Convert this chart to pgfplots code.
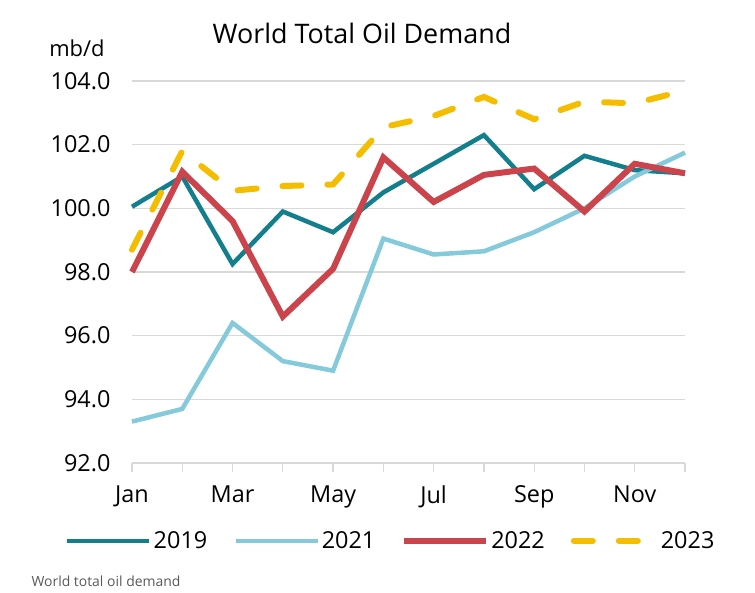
\documentclass[border=0pt]{standalone}
\usepackage{fontspec}
\setmainfont{Open Sans}
\usepackage{pgfplots}
\pgfplotsset{compat=1.18}
\definecolor{c2019}{RGB}{19,127,140}
\definecolor{c2021}{RGB}{132,202,219}
\definecolor{c2022}{RGB}{204,68,75}
\definecolor{c2023}{RGB}{245,189,0}
\definecolor{gridgrey}{RGB}{217,217,217}
\begin{document}
\begin{tikzpicture}
\path[use as bounding box] (-132bp,-130bp) rectangle (623bp,463bp);
\begin{axis}[
  at={(0,0)}, anchor=south west,
  scale only axis, width=553bp, height=382bp,
  xmin=1, xmax=12, ymin=92, ymax=104,
  xtick={1,...,12},
  xticklabels={Jan,,Mar,,May,,Jul,,Sep,,Nov,},
  ytick={92,94,...,104},
  yticklabel={\pgfmathprintnumber[fixed,fixed zerofill,precision=1]{\tick}},
  /pgf/number format/assume math mode=true,
  ymajorgrids, grid style={gridgrey, line width=1.2bp},
  axis x line*=bottom, axis y line*=left,
  x axis line style={gridgrey, line width=1.2bp, -},
  y axis line style={draw=none},
  xtick style={gridgrey, line width=1.2bp},
  xtick align=outside, major tick length=9bp,
  ytick style={draw=none},
  ticklabel style={font=\fontsize{23.5}{28}\selectfont},
  yticklabel style={xshift=-18bp},
  xticklabel style={yshift=-10bp},
  clip=false,
  legend columns=4,
  legend style={at={(0.468,-0.204)}, anchor=center, draw=none,
    font=\fontsize{23.5}{28}\selectfont,
    /tikz/every even column/.append style={column sep=24bp}},
  legend image code/.code={\draw[#1] (0bp,0bp) -- (82bp,0bp);},
]
\addplot[c2019, line width=4.5bp] coordinates {
 (1,100.05) (2,101.0) (3,98.25) (4,99.9) (5,99.25) (6,100.5)
 (7,101.4) (8,102.3) (9,100.6) (10,101.65) (11,101.2) (12,101.1)};
\addplot[c2021, line width=4.5bp] coordinates {
 (1,93.3) (2,93.7) (3,96.4) (4,95.2) (5,94.9) (6,99.05)
 (7,98.55) (8,98.65) (9,99.25) (10,100.0) (11,101.0) (12,101.75)};
\addplot[c2022, line width=6bp] coordinates {
 (1,98.0) (2,101.15) (3,99.6) (4,96.6) (5,98.1) (6,101.6)
 (7,100.2) (8,101.05) (9,101.25) (10,99.9) (11,101.4) (12,101.1)};
\addplot[c2023, line width=6bp, line cap=round, dash pattern=on 19bp off 26bp] coordinates {
 (1,98.7) (2,101.8) (3,100.55) (4,100.7) (5,100.75) (6,102.55)
 (7,102.9) (8,103.5) (9,102.8) (10,103.35) (11,103.3) (12,103.7)};
\legend{2019,2021,2022,2023}
\end{axis}
\node[font=\fontsize{27}{32}\selectfont] at (230bp,430bp) {World Total Oil Demand};
\node[font=\fontsize{22}{26}\selectfont] at (-55bp,415bp) {mb/d};
\node[anchor=west, text=black!65, font=\fontsize{14}{17}\selectfont] at (-104bp,-118bp) {World total oil demand};
\end{tikzpicture}
\end{document}
